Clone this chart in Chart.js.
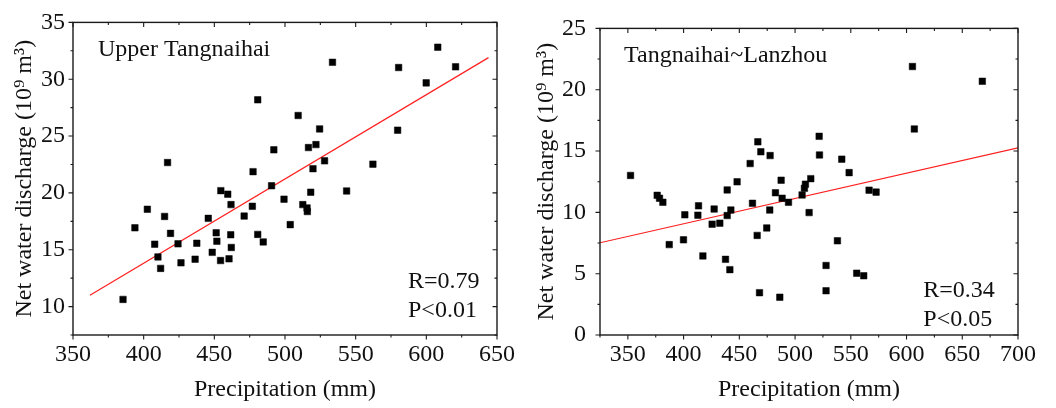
<!DOCTYPE html>
<html>
<head>
<meta charset="utf-8">
<script src="https://cdn.jsdelivr.net/npm/chart.js@4"></script>
<style>
body { margin: 0; background: #fff; }
#wrap { display: flex; width: 1056px; height: 408px; }
canvas { display: block; }
</style>
</head>
<body>
<div id="wrap">
  <canvas id="leftChart" width="520" height="408"></canvas>
  <canvas id="rightChart" width="536" height="408"></canvas>
</div>
<script>
// Upper Tangnaihai: precipitation (mm) vs net water discharge (10^9 m^3)
const upperPrecip = [385.4, 393.8, 402.6, 407.8, 410.1, 412.0, 414.8, 416.9, 419.0, 424.3,
  426.4, 436.4, 437.6, 445.7, 448.5, 451.3, 451.8, 454.6, 454.4, 459.5,
  460.4, 461.8, 461.6, 462.0, 471.1, 477.4, 476.9, 480.7, 480.7, 484.6,
  490.5, 492.1, 499.3, 503.7, 509.3, 512.6, 515.6, 515.8, 516.6, 518.2,
  519.8, 521.9, 524.5, 528.0, 533.6, 543.6, 562.2, 579.7, 580.4, 599.9,
  608.1, 620.7];
const upperDischarge = [10.63, 16.93, 18.56, 15.49, 14.37, 13.36, 17.93, 22.67, 16.44, 15.52,
  13.85, 14.17, 15.57, 17.76, 14.77, 16.49, 15.75, 20.20, 14.05, 19.89,
  14.20, 18.97, 16.32, 15.20, 17.96, 21.87, 18.82, 28.19, 16.35, 15.69,
  20.63, 23.79, 19.45, 17.21, 26.81, 18.97, 18.68, 18.36, 23.99, 20.06,
  22.13, 24.25, 25.63, 22.82, 31.49, 20.17, 22.53, 25.52, 31.03, 29.68,
  32.82, 31.09];
const upperFitX = [362, 644];
const upperFitY = [11.0, 31.9];

// Tangnaihai~Lanzhou
const lowerPrecip = [352.4, 376.3, 378.4, 381.4, 387.1, 399.9, 401.1, 412.8, 413.4, 417.3,
  425.6, 427.4, 432.5, 437.6, 439.1, 439.1, 441.5, 442.4, 448.0, 459.7,
  461.8, 466.0, 466.6, 468.1, 469.3, 474.6, 477.3, 477.6, 482.4, 486.3,
  487.5, 488.4, 494.1, 506.3, 508.4, 509.3, 512.6, 514.1, 521.6, 521.9,
  527.8, 527.8, 538.0, 541.9, 548.5, 555.3, 561.6, 566.4, 572.7, 605.3,
  607.0, 668.0];
const lowerDischarge = [13.01, 11.39, 11.15, 10.82, 7.37, 7.76, 9.80, 9.77, 10.53, 6.45,
  9.04, 10.27, 9.12, 6.17, 11.83, 9.74, 5.33, 10.19, 12.49, 13.98,
  10.74, 8.12, 15.75, 3.45, 14.94, 8.73, 10.19, 14.63, 11.60, 3.08,
  12.62, 11.15, 10.82, 11.42, 11.96, 12.30, 9.98, 12.75, 16.20, 14.68,
  5.67, 3.61, 7.68, 14.34, 13.24, 5.04, 4.83, 11.81, 11.65, 21.89,
  16.80, 20.69];
const lowerFitX = [325, 700];
const lowerFitY = [7.52, 15.26];

const serif = "'Liberation Serif', 'Times New Roman', serif";

function toPoints(xs, ys) {
    return xs.map((x, i) => ({ x: x, y: ys[i] }));
}

// frame and tick marks: bottom/left outward, top/right inward (Origin style)
const framePlugin = {
    id: 'frame',
    afterDraw(chart) {
        const ctx = chart.ctx;
        const a = chart.chartArea;
        const xs = chart.scales.x, ys = chart.scales.y;
        ctx.save();
        ctx.strokeStyle = '#1a1a1a';
        ctx.lineWidth = 1.4;
        ctx.strokeRect(a.left, a.top, a.right - a.left, a.bottom - a.top);
        ctx.lineWidth = 1.1;
        ctx.beginPath();
        xs.ticks.forEach(t => {
            const px = xs.getPixelForValue(t.value);
            const len = t.value % 50 === 0 ? 4.5 : 2.5;
            ctx.moveTo(px, a.bottom); ctx.lineTo(px, a.bottom + len);
            ctx.moveTo(px, a.top); ctx.lineTo(px, a.top + len);
        });
        ys.ticks.forEach(t => {
            const py = ys.getPixelForValue(t.value);
            const len = t.value % 5 === 0 ? 4.5 : 2.5;
            ctx.moveTo(a.left, py); ctx.lineTo(a.left - len, py);
            ctx.moveTo(a.right, py); ctx.lineTo(a.right - len, py);
        });
        ctx.stroke();

        const notes = chart.options.plugins.frame;
        ctx.fillStyle = '#111';
        ctx.font = '24px ' + serif;
        ctx.textBaseline = 'middle';
        ctx.textAlign = 'left';
        ctx.fillText(notes.name, a.left + notes.nameDx, a.top + 27.5);
        ctx.fillText(notes.r, a.left + notes.statDx, a.top + notes.rDy);
        ctx.fillText(notes.p, a.left + notes.statDx, a.top + notes.rDy + 29);
        ctx.restore();
    }
};

function makeChart(id, cfg) {
    return new Chart(document.getElementById(id).getContext('2d'), {
        type: 'scatter',
        data: {
            datasets: [
                {
                    data: toPoints(cfg.px, cfg.py),
                    pointStyle: 'rect',
                    pointRadius: 4.6,
                    pointBackgroundColor: '#000',
                    pointBorderColor: '#000',
                    pointBorderWidth: 0.5
                },
                {
                    type: 'line',
                    data: toPoints(cfg.fx, cfg.fy),
                    borderColor: '#ff2020',
                    borderWidth: 1.2,
                    pointRadius: 0,
                    fill: false
                }
            ]
        },
        options: {
            responsive: false,
            animation: false,
            layout: { padding: { top: cfg.top, right: cfg.right, left: 0, bottom: 0 } },
            plugins: {
                legend: { display: false },
                tooltip: { enabled: false },
                frame: cfg.notes
            },
            scales: {
                x: {
                    type: 'linear',
                    min: cfg.xmin, max: cfg.xmax,
                    afterFit: s => { s.height = 73; },
                    grid: { display: false, drawTicks: false },
                    border: { display: false },
                    ticks: {
                        stepSize: 25, autoSkip: false, maxRotation: 0,
                        padding: 5, color: '#111',
                        font: { family: serif, size: 24 },
                        callback: v => v % 50 === 0 ? v : ''
                    },
                    title: {
                        display: true, text: 'Precipitation (mm)', color: '#111',
                        font: { family: serif, size: 24 },
                        padding: { top: 0, bottom: 4 }
                    }
                },
                y: {
                    type: 'linear',
                    min: cfg.ymin, max: cfg.ymax,
                    afterFit: s => { s.width = cfg.yWidth; },
                    grid: { display: false, drawTicks: false },
                    border: { display: false },
                    ticks: {
                        stepSize: 2.5, autoSkip: false,
                        padding: cfg.yPad, color: '#111',
                        font: { family: serif, size: 24 },
                        callback: v => v % 5 === 0 ? v : ''
                    },
                    title: {
                        display: true, text: 'Net water discharge (10⁹ m³)', color: '#111',
                        font: { family: serif, size: 24 },
                        padding: { top: cfg.titlePad, bottom: 0 }
                    }
                }
            }
        },
        plugins: [framePlugin]
    });
}

makeChart('leftChart', {
    px: upperPrecip, py: upperDischarge, fx: upperFitX, fy: upperFitY,
    xmin: 350, xmax: 650, ymin: 7.5, ymax: 35,
    top: 16, right: 17, yWidth: 73, yPad: 8, titlePad: 10.5,
    notes: { name: 'Upper Tangnaihai', nameDx: 25, r: 'R=0.79', p: 'P<0.01', statDx: 335, rDy: 259.5 }
});

makeChart('rightChart', {
    px: lowerPrecip, py: lowerDischarge, fx: lowerFitX, fy: lowerFitY,
    xmin: 325, xmax: 700, ymin: 0, ymax: 25,
    top: 15.5, right: 38, yWidth: 80, yPad: 14, titlePad: 12.3,
    notes: { name: 'Tangnaihai~Lanzhou', nameDx: 24, r: 'R=0.34', p: 'P<0.05', statDx: 323.3, rDy: 262.5 }
});
</script>
</body>
</html>
